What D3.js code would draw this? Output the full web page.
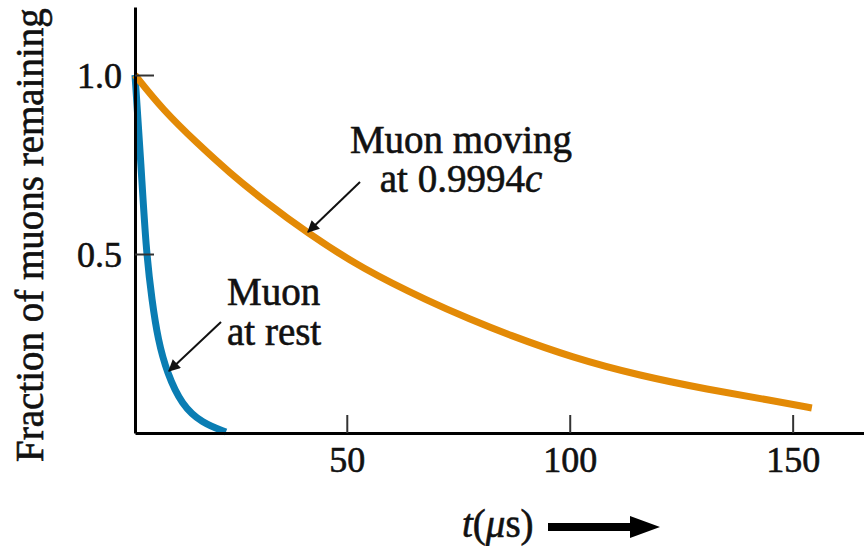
<!DOCTYPE html>
<html>
<head>
<meta charset="utf-8">
<script src="https://cdn.jsdelivr.net/npm/d3@7"></script>
</head>
<body style="margin:0; background:#fff">
<div id="chart"></div>
<script>
// values (t in microseconds, fraction remaining)
var movingT = [2.5, 8.8, 16.4, 23.8, 31.2, 41.1, 53.6, 68.7, 77.6, 85.9, 100.7, 115.8, 130.8, 145.6, 154.3];
var movingV = [1.0, 0.902, 0.810, 0.726, 0.651, 0.559, 0.458, 0.366, 0.318, 0.276, 0.210, 0.160, 0.122, 0.090, 0.070];
var restT = [2.5, 3.85, 4.97, 6.3, 7.66, 9.68, 13.0, 17.5, 22.9];
var restV = [1.0, 0.749, 0.511, 0.37, 0.26, 0.168, 0.078, 0.028, 0.003];
var xTicks = [50, 100, 150];
var yTicks = [0.5, 1.0];

var svgWidth = 864, svgHeight = 546;
var serif = "'Liberation Serif'";

var svg = d3.select("#chart").append("svg")
    .attr("width", svgWidth)
    .attr("height", svgHeight);

// scales
var xScale = d3.scaleLinear().domain([2.5, 166]).range([135, 864]);
var yScale = d3.scaleLinear().domain([0, 1.19]).range([433, 7]);

// arrow head for the annotation pointers
svg.append("defs").append("marker")
    .attr("id", "head")
    .attr("viewBox", "0 0 10 10")
    .attr("refX", 9).attr("refY", 5)
    .attr("markerWidth", 7).attr("markerHeight", 6)
    .attr("markerUnits", "strokeWidth")
    .attr("orient", "auto")
  .append("path")
    .attr("d", "M0,0 L10,5 L0,10 Z")
    .attr("fill", "#111");

// curves
var line = d3.line()
    .x(d => xScale(d[0]))
    .y(d => yScale(d[1]))
    .curve(d3.curveBasis);

svg.append("path")
    .datum(restT.map((t, i) => [t, restV[i]]))
    .attr("d", line)
    .attr("fill", "none")
    .attr("stroke", "#0a7db3")
    .attr("stroke-width", 7);

svg.append("path")
    .datum(movingT.map((t, i) => [t, movingV[i]]))
    .attr("d", line)
    .attr("fill", "none")
    .attr("stroke", "#e38a06")
    .attr("stroke-width", 7);

// slightly heavier text, like the scanned figure
function ink(sel) {
  sel.style("font-family", serif)
     .attr("fill", "#111")
     .attr("stroke", "#111")
     .attr("stroke-width", 0.6);
}

// x axis, ticks point inward
var xAxis = svg.append("g")
    .attr("transform", "translate(0,433)")
    .call(d3.axisBottom(xScale).tickValues(xTicks).tickSizeInner(-18).tickSizeOuter(0));
xAxis.select(".domain").attr("stroke", "#000").attr("stroke-width", 3);
xAxis.selectAll(".tick line").attr("stroke", "#333").attr("stroke-width", 2);
xAxis.selectAll(".tick text")
    .attr("y", 39).attr("dy", 0)
    .style("font-size", "36px")
    .call(ink);

// y axis
var yAxis = svg.append("g")
    .attr("transform", "translate(135,0)")
    .call(d3.axisLeft(yScale).tickValues(yTicks).tickFormat(d3.format(".1f")).tickSizeInner(-19).tickSizeOuter(0));
yAxis.select(".domain").attr("stroke", "#000").attr("stroke-width", 3);
yAxis.selectAll(".tick line").attr("stroke", "#333").attr("stroke-width", 2);
yAxis.selectAll(".tick text")
    .attr("x", -13).attr("dy", 12)
    .style("font-size", "36px")
    .call(ink);

// y axis title
svg.append("text")
    .attr("transform", "translate(43,462) rotate(-90)")
    .style("font-size", "39px")
    .call(ink)
    .text("Fraction of muons remaining");

// x axis title with arrow
var xt = svg.append("text")
    .attr("x", 462).attr("y", 537)
    .style("font-size", "39px")
    .call(ink);
xt.append("tspan").style("font-style", "italic").text("t");
xt.append("tspan").text("(");
xt.append("tspan").style("font-style", "italic").text("\u03bc");
xt.append("tspan").text("s)");

svg.append("path")
    .attr("d", "M548,523 H630 V516 L660,527 L630,538 V531 H548 Z")
    .attr("fill", "#000");

// annotations
var moving = svg.append("text")
    .attr("text-anchor", "middle")
    .style("font-size", "39px")
    .call(ink);
moving.append("tspan").attr("x", 461).attr("y", 153).text("Muon moving");
var l2 = moving.append("tspan").attr("x", 461).attr("y", 192);
l2.append("tspan").text("at 0.9994");
l2.append("tspan").style("font-style", "italic").text("c");

svg.append("line")
    .attr("x1", 360).attr("y1", 182)
    .attr("x2", 308).attr("y2", 232)
    .attr("stroke", "#111").attr("stroke-width", 2)
    .attr("marker-end", "url(#head)");

var rest = svg.append("text")
    .style("font-size", "39px")
    .call(ink);
rest.append("tspan").attr("x", 227).attr("y", 305).text("Muon");
rest.append("tspan").attr("x", 227).attr("y", 345).text("at rest");

svg.append("line")
    .attr("x1", 221).attr("y1", 322)
    .attr("x2", 169).attr("y2", 371)
    .attr("stroke", "#111").attr("stroke-width", 2)
    .attr("marker-end", "url(#head)");
</script>
</body>
</html>
